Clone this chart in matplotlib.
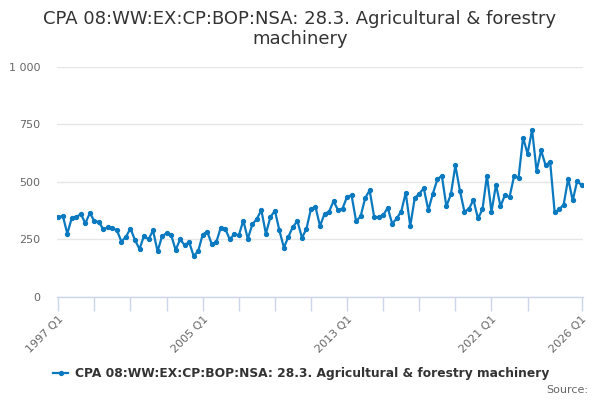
import matplotlib
matplotlib.use("Agg")
import matplotlib.pyplot as plt

start_year = 1997
values = [347, 352, 275, 344, 347, 360, 320, 365, 329, 325,
          293, 303, 299, 289, 240, 262, 297, 247, 208, 266,
          250, 289, 198, 264, 277, 270, 204, 250, 225, 238,
          178, 199, 271, 284, 230, 237, 301, 296, 250, 273,
          267, 332, 253, 315, 339, 377, 275, 346, 375, 289,
          214, 262, 305, 329, 257, 296, 383, 391, 308, 361,
          370, 416, 377, 384, 436, 441, 329, 350, 429, 463,
          348, 346, 355, 387, 318, 341, 371, 452, 308, 430,
          448, 472, 377, 448, 510, 527, 394, 445, 571, 462,
          371, 382, 422, 341, 380, 527, 370, 487, 394, 443,
          433, 524, 517, 692, 622, 726, 547, 636, 571, 587,
          368, 380, 401, 514, 419, 504, 484]
categories = [f"{start_year + i // 4} Q{i % 4 + 1}" for i in range(len(values))]
yticks = [0, 250, 500, 750, 1000]
ytick_labels = ["0", "250", "500", "750", "1 000"]
title_lines = ["CPA 08:WW:EX:CP:BOP:NSA: 28.3. Agricultural & forestry", "machinery"]
series_name = "CPA 08:WW:EX:CP:BOP:NSA: 28.3. Agricultural & forestry machinery"

color = "#0a79bf"
fig = plt.figure(figsize=(6, 4), dpi=100)
ax = fig.add_axes([57.3 / 600, 1 - 297 / 400, (583.3 - 57.3) / 600, (297 - 66.6) / 400])

x = list(range(len(values)))
ax.plot(x, values, color=color, lw=1.6, marker="o", ms=2.8, mec=color, mfc=color, zorder=3)

ax.set_ylim(0, 1000)
ax.set_xlim(-0.22, 116.35)
ax.set_yticks(yticks)
ax.set_yticklabels(ytick_labels)
ax.grid(axis="y", color="#e6e6e6", lw=1)
ax.set_axisbelow(True)
for s in ["top", "right", "left"]:
    ax.spines[s].set_visible(False)
ax.spines["bottom"].set_color("#ccd6eb")
ax.spines["bottom"].set_linewidth(1)
ax.tick_params(axis="y", length=0, pad=12, labelsize=8, labelcolor="#666666")

n = len(values)
tick_pos = list(range(0, 105, 8)) + [n - 1]
ax.set_xticks(tick_pos)
label_idx = {0, 32, 64, 96, n - 1}
ax.set_xticklabels([categories[i] if i in label_idx else "" for i in tick_pos],
                   rotation=45, ha="right", rotation_mode="anchor")
ax.tick_params(axis="x", length=10, width=1, color="#ccd6eb", labelsize=8,
               labelcolor="#666666", pad=2)

fig.text(0.5, 1 - 23.5 / 400, title_lines[0], ha="center", va="baseline", fontsize=13,
         color="#333333")
fig.text(0.5, 1 - 44.5 / 400, title_lines[1], ha="center", va="baseline", fontsize=13,
         color="#333333")

# legend
fig.add_artist(plt.Line2D([53 / 600, 68 / 600], [1 - 373 / 400] * 2, color=color, lw=1.6,
                          transform=fig.transFigure))
fig.add_artist(plt.Line2D([60.5 / 600], [1 - 373 / 400], color=color, marker="o", ms=2.8,
                          transform=fig.transFigure))
fig.text(75 / 600, 1 - 373 / 400, series_name, ha="left", va="center", fontsize=8.8,
         fontweight="bold", color="#333333")
fig.text(588 / 600, 1 - 390 / 400, "Source:", ha="right", va="center", fontsize=8,
         color="#666666")

fig.savefig("out.png", dpi=100)
